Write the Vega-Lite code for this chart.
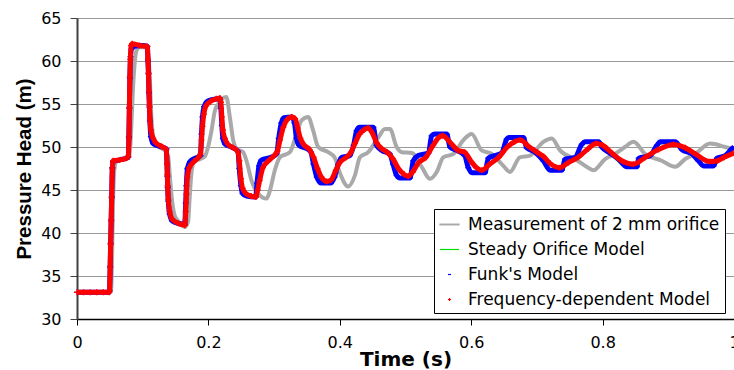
{
  "$schema": "https://vega.github.io/schema/vega-lite/v6.json",
  "width": 657,
  "height": 301,
  "autosize": {"type": "none"},
  "padding": {"left": 77, "top": 18, "right": 0, "bottom": 51},
  "background": "white",
  "config": {
    "font": "DejaVu Sans",
    "view": {"stroke": "#999999", "strokeWidth": 1}
  },
  "datasets": {
    "d": [
      {"s":"M","t":0,"p":33.1},{"s":"M","t":0.05,"p":33.1},{"s":"M","t":0.052,"p":33.4},{"s":"M","t":0.053,"p":36},{"s":"M","t":0.054,"p":40},{"s":"M","t":0.055,"p":44},{"s":"M","t":0.0565,"p":47},{"s":"M","t":0.059,"p":48.2},{"s":"M","t":0.065,"p":48.5},{"s":"M","t":0.079,"p":48.7},{"s":"M","t":0.081,"p":50},{"s":"M","t":0.083,"p":53},{"s":"M","t":0.085,"p":56.5},{"s":"M","t":0.0875,"p":59.5},{"s":"M","t":0.0905,"p":61.2},{"s":"M","t":0.095,"p":61.6},{"s":"M","t":0.106,"p":61.6},{"s":"M","t":0.108,"p":61.0},{"s":"M","t":0.1107,"p":58.3},{"s":"M","t":0.1133,"p":53.3},{"s":"M","t":0.118,"p":50.6},{"s":"M","t":0.125,"p":50.0},{"s":"M","t":0.1336,"p":49.6},{"s":"M","t":0.1386,"p":49.0},{"s":"M","t":0.1412,"p":46.7},{"s":"M","t":0.1438,"p":44.4},{"s":"M","t":0.1488,"p":42.0},{"s":"M","t":0.1539,"p":41.4},{"s":"M","t":0.164,"p":40.7},{"s":"M","t":0.169,"p":41.3},{"s":"M","t":0.1717,"p":44.4},{"s":"M","t":0.1743,"p":47.1},{"s":"M","t":0.179,"p":48.4},{"s":"M","t":0.187,"p":48.6},{"s":"M","t":0.1945,"p":48.9},{"s":"M","t":0.1995,"p":50.0},{"s":"M","t":0.2047,"p":51.9},{"s":"M","t":0.2098,"p":54.2},{"s":"M","t":0.215,"p":55.0},{"s":"M","t":0.2273,"p":55.8},{"s":"M","t":0.2326,"p":53.5},{"s":"M","t":0.2377,"p":50.8},{"s":"M","t":0.2428,"p":49.8},{"s":"M","t":0.2529,"p":49.4},{"s":"M","t":0.258,"p":48.4},{"s":"M","t":0.2656,"p":46.1},{"s":"M","t":0.2757,"p":44.6},{"s":"M","t":0.2885,"p":44.0},{"s":"M","t":0.2935,"p":44.9},{"s":"M","t":0.3011,"p":47.3},{"s":"M","t":0.3088,"p":48.8},{"s":"M","t":0.324,"p":49.4},{"s":"M","t":0.3342,"p":51.5},{"s":"M","t":0.3418,"p":53.1},{"s":"M","t":0.3519,"p":53.5},{"s":"M","t":0.3595,"p":51.9},{"s":"M","t":0.3671,"p":50.0},{"s":"M","t":0.3823,"p":49.4},{"s":"M","t":0.392,"p":48.8},{"s":"M","t":0.4,"p":47.0},{"s":"M","t":0.4128,"p":45.4},{"s":"M","t":0.423,"p":46.7},{"s":"M","t":0.4306,"p":48.8},{"s":"M","t":0.4433,"p":49.4},{"s":"M","t":0.4585,"p":51.1},{"s":"M","t":0.4687,"p":52.1},{"s":"M","t":0.4763,"p":52.1},{"s":"M","t":0.4865,"p":50.0},{"s":"M","t":0.4941,"p":49.4},{"s":"M","t":0.51,"p":49.3},{"s":"M","t":0.5246,"p":47.7},{"s":"M","t":0.5372,"p":46.3},{"s":"M","t":0.5475,"p":47.1},{"s":"M","t":0.5575,"p":48.8},{"s":"M","t":0.573,"p":49.2},{"s":"M","t":0.588,"p":50.8},{"s":"M","t":0.6007,"p":51.5},{"s":"M","t":0.616,"p":49.6},{"s":"M","t":0.6312,"p":49.2},{"s":"M","t":0.649,"p":47.8},{"s":"M","t":0.659,"p":47.1},{"s":"M","t":0.674,"p":48.8},{"s":"M","t":0.6896,"p":49.0},{"s":"M","t":0.7098,"p":50.6},{"s":"M","t":0.7226,"p":51.0},{"s":"M","t":0.7353,"p":49.6},{"s":"M","t":0.758,"p":48.6},{"s":"M","t":0.778,"p":47.6},{"s":"M","t":0.786,"p":47.3},{"s":"M","t":0.8038,"p":48.6},{"s":"M","t":0.819,"p":49.2},{"s":"M","t":0.834,"p":50.0},{"s":"M","t":0.847,"p":50.6},{"s":"M","t":0.8647,"p":49.2},{"s":"M","t":0.89,"p":48.4},{"s":"M","t":0.9104,"p":47.7},{"s":"M","t":0.9257,"p":48.6},{"s":"M","t":0.941,"p":49.2},{"s":"M","t":0.9637,"p":50.4},{"s":"M","t":0.9866,"p":50.0},{"s":"M","t":1.0,"p":49.7},

      {"s":"S","t":0,"p":33.1},{"s":"S","t":0.049,"p":33.1},{"s":"S","t":0.0495,"p":34.5},{"s":"S","t":0.053,"p":46},{"s":"S","t":0.0545,"p":48.3},{"s":"S","t":0.065,"p":48.5},{"s":"S","t":0.0785,"p":48.8},{"s":"S","t":0.0815,"p":60.5},{"s":"S","t":0.084,"p":61.5},{"s":"S","t":0.1,"p":61.8},{"s":"S","t":0.1065,"p":61.7},{"s":"S","t":0.1095,"p":55},{"s":"S","t":0.112,"p":51.2},{"s":"S","t":0.116,"p":50.4},{"s":"S","t":0.136,"p":49.8},{"s":"S","t":0.1385,"p":44},{"s":"S","t":0.142,"p":41.8},{"s":"S","t":0.155,"p":41.1},{"s":"S","t":0.165,"p":41},{"s":"S","t":0.1675,"p":46.5},{"s":"S","t":0.172,"p":48.3},{"s":"S","t":0.188,"p":49},{"s":"S","t":0.192,"p":54},{"s":"S","t":0.198,"p":55.3},{"s":"S","t":0.2175,"p":55.6},{"s":"S","t":0.221,"p":51.5},{"s":"S","t":0.226,"p":50.3},{"s":"S","t":0.245,"p":49.5},{"s":"S","t":0.2495,"p":45.5},{"s":"S","t":0.256,"p":44.3},{"s":"S","t":0.272,"p":44.2},{"s":"S","t":0.277,"p":47.8},{"s":"S","t":0.282,"p":48.5},{"s":"S","t":0.304,"p":49.2},{"s":"S","t":0.311,"p":52.8},{"s":"S","t":0.316,"p":53.4},{"s":"S","t":0.327,"p":53.5},{"s":"S","t":0.334,"p":51},{"s":"S","t":0.34,"p":50.1},{"s":"S","t":0.356,"p":49.4},{"s":"S","t":0.365,"p":46.5},{"s":"S","t":0.372,"p":45.8},{"s":"S","t":0.386,"p":45.8},{"s":"S","t":0.397,"p":48},{"s":"S","t":0.403,"p":48.8},{"s":"S","t":0.415,"p":49},{"s":"S","t":0.425,"p":51.9},{"s":"S","t":0.43,"p":52.3},{"s":"S","t":0.45,"p":52.3},{"s":"S","t":0.456,"p":50.2},{"s":"S","t":0.476,"p":49.2},{"s":"S","t":0.486,"p":46.7},{"s":"S","t":0.491,"p":46.4},{"s":"S","t":0.506,"p":46.4},{"s":"S","t":0.511,"p":48.4},{"s":"S","t":0.519,"p":49.0},{"s":"S","t":0.535,"p":49.3},{"s":"S","t":0.539,"p":51.3},{"s":"S","t":0.545,"p":51.5},{"s":"S","t":0.562,"p":51.5},{"s":"S","t":0.567,"p":50.0},{"s":"S","t":0.59,"p":49.0},{"s":"S","t":0.5955,"p":47.6},{"s":"S","t":0.601,"p":47.0},{"s":"S","t":0.62,"p":47.0},{"s":"S","t":0.626,"p":48.7},{"s":"S","t":0.646,"p":49.3},{"s":"S","t":0.654,"p":50.9},{"s":"S","t":0.679,"p":51.1},{"s":"S","t":0.684,"p":49.9},{"s":"S","t":0.697,"p":49.4},{"s":"S","t":0.72,"p":47.3},{"s":"S","t":0.737,"p":47.3},{"s":"S","t":0.743,"p":48.6},{"s":"S","t":0.758,"p":48.8},{"s":"S","t":0.768,"p":50.3},{"s":"S","t":0.794,"p":50.6},{"s":"S","t":0.809,"p":49.4},{"s":"S","t":0.837,"p":47.7},{"s":"S","t":0.852,"p":47.7},{"s":"S","t":0.855,"p":48.7},{"s":"S","t":0.872,"p":49.0},{"s":"S","t":0.8826,"p":50.2},{"s":"S","t":0.91,"p":50.6},{"s":"S","t":0.9358,"p":49.2},{"s":"S","t":0.9536,"p":47.8},{"s":"S","t":0.9688,"p":47.8},{"s":"S","t":0.974,"p":48.7},{"s":"S","t":0.9866,"p":49.0},{"s":"S","t":1.0,"p":50.0},

      {"s":"K","t":0,"p":33.1},{"s":"K","t":0.02,"p":33.1},{"s":"K","t":0.049,"p":33.1},{"s":"K","t":0.0495,"p":33.3},{"s":"K","t":0.0505,"p":36.1},{"s":"K","t":0.0512,"p":38.8},{"s":"K","t":0.052,"p":41.5},{"s":"K","t":0.0528,"p":44.2},{"s":"K","t":0.0538,"p":47.6},{"s":"K","t":0.055,"p":48.3},{"s":"K","t":0.065,"p":48.5},{"s":"K","t":0.078,"p":48.8},{"s":"K","t":0.079,"p":51.2},{"s":"K","t":0.0797,"p":54.5},{"s":"K","t":0.0805,"p":58.0},{"s":"K","t":0.0815,"p":60.5},{"s":"K","t":0.083,"p":61.4},{"s":"K","t":0.087,"p":61.7},{"s":"K","t":0.1,"p":61.8},{"s":"K","t":0.107,"p":61.7},{"s":"K","t":0.108,"p":60.0},{"s":"K","t":0.1088,"p":58.5},{"s":"K","t":0.1095,"p":56.3},{"s":"K","t":0.1103,"p":54.6},{"s":"K","t":0.111,"p":53.0},{"s":"K","t":0.1125,"p":51.2},{"s":"K","t":0.116,"p":50.4},{"s":"K","t":0.125,"p":50.1},{"s":"K","t":0.136,"p":49.8},{"s":"K","t":0.137,"p":48.0},{"s":"K","t":0.1375,"p":46.6},{"s":"K","t":0.138,"p":45.3},{"s":"K","t":0.139,"p":43.7},{"s":"K","t":0.141,"p":42.2},{"s":"K","t":0.145,"p":41.4},{"s":"K","t":0.155,"p":41.1},{"s":"K","t":0.164,"p":41.0},{"s":"K","t":0.1655,"p":43.5},{"s":"K","t":0.1665,"p":45.5},{"s":"K","t":0.168,"p":47.5},{"s":"K","t":0.172,"p":48.3},{"s":"K","t":0.18,"p":48.7},{"s":"K","t":0.188,"p":49.0},{"s":"K","t":0.1895,"p":51.5},{"s":"K","t":0.191,"p":53.5},{"s":"K","t":0.1935,"p":54.7},{"s":"K","t":0.198,"p":55.3},{"s":"K","t":0.205,"p":55.5},{"s":"K","t":0.2175,"p":55.6},{"s":"K","t":0.219,"p":54.5},{"s":"K","t":0.2205,"p":52.5},{"s":"K","t":0.222,"p":51.0},{"s":"K","t":0.226,"p":50.3},{"s":"K","t":0.235,"p":50.0},{"s":"K","t":0.245,"p":49.5},{"s":"K","t":0.247,"p":47.5},{"s":"K","t":0.2495,"p":45.5},{"s":"K","t":0.252,"p":44.6},{"s":"K","t":0.258,"p":44.3},{"s":"K","t":0.272,"p":44.2},{"s":"K","t":0.274,"p":45.8},{"s":"K","t":0.277,"p":47.8},{"s":"K","t":0.281,"p":48.5},{"s":"K","t":0.295,"p":48.8},{"s":"K","t":0.304,"p":49.2},{"s":"K","t":0.307,"p":51.0},{"s":"K","t":0.311,"p":52.8},{"s":"K","t":0.315,"p":53.4},{"s":"K","t":0.327,"p":53.5},{"s":"K","t":0.331,"p":52.8},{"s":"K","t":0.334,"p":51.0},{"s":"K","t":0.338,"p":50.2},{"s":"K","t":0.35,"p":49.8},{"s":"K","t":0.356,"p":49.4},{"s":"K","t":0.36,"p":48.0},{"s":"K","t":0.365,"p":46.5},{"s":"K","t":0.372,"p":45.8},{"s":"K","t":0.386,"p":45.8},{"s":"K","t":0.392,"p":46.5},{"s":"K","t":0.3976,"p":48.0},{"s":"K","t":0.403,"p":48.8},{"s":"K","t":0.415,"p":49.0},{"s":"K","t":0.421,"p":50.2},{"s":"K","t":0.4256,"p":51.9},{"s":"K","t":0.43,"p":52.3},{"s":"K","t":0.451,"p":52.3},{"s":"K","t":0.456,"p":50.2},{"s":"K","t":0.464,"p":49.6},{"s":"K","t":0.476,"p":49.2},{"s":"K","t":0.481,"p":48.0},{"s":"K","t":0.4865,"p":46.7},{"s":"K","t":0.4915,"p":46.4},{"s":"K","t":0.5068,"p":46.4},{"s":"K","t":0.5118,"p":48.4},{"s":"K","t":0.5194,"p":49.0},{"s":"K","t":0.535,"p":49.3},{"s":"K","t":0.5398,"p":51.3},{"s":"K","t":0.545,"p":51.5},{"s":"K","t":0.5627,"p":51.5},{"s":"K","t":0.5677,"p":50.0},{"s":"K","t":0.578,"p":49.6},{"s":"K","t":0.59,"p":49.0},{"s":"K","t":0.5956,"p":47.6},{"s":"K","t":0.601,"p":47.0},{"s":"K","t":0.621,"p":47.0},{"s":"K","t":0.626,"p":48.7},{"s":"K","t":0.636,"p":49.0},{"s":"K","t":0.6464,"p":49.3},{"s":"K","t":0.654,"p":50.9},{"s":"K","t":0.657,"p":51.1},{"s":"K","t":0.6794,"p":51.1},{"s":"K","t":0.6845,"p":49.9},{"s":"K","t":0.6972,"p":49.4},{"s":"K","t":0.7098,"p":48.4},{"s":"K","t":0.72,"p":47.3},{"s":"K","t":0.7378,"p":47.3},{"s":"K","t":0.7429,"p":48.6},{"s":"K","t":0.758,"p":48.8},{"s":"K","t":0.7683,"p":50.3},{"s":"K","t":0.7733,"p":50.6},{"s":"K","t":0.794,"p":50.6},{"s":"K","t":0.7988,"p":50.0},{"s":"K","t":0.809,"p":49.4},{"s":"K","t":0.824,"p":48.6},{"s":"K","t":0.8369,"p":47.7},{"s":"K","t":0.852,"p":47.7},{"s":"K","t":0.855,"p":48.7},{"s":"K","t":0.8724,"p":49.0},{"s":"K","t":0.8826,"p":50.2},{"s":"K","t":0.8877,"p":50.6},{"s":"K","t":0.9104,"p":50.6},{"s":"K","t":0.9206,"p":49.7},{"s":"K","t":0.9358,"p":49.2},{"s":"K","t":0.9459,"p":48.4},{"s":"K","t":0.9536,"p":47.8},{"s":"K","t":0.9688,"p":47.8},{"s":"K","t":0.974,"p":48.7},{"s":"K","t":0.9866,"p":49.0},{"s":"K","t":0.9968,"p":49.8},{"s":"K","t":1.0,"p":50.0},

      {"s":"F","t":0,"p":33.1},{"s":"F","t":0.01,"p":33.1},{"s":"F","t":0.02,"p":33.1},{"s":"F","t":0.03,"p":33.1},{"s":"F","t":0.04,"p":33.1},{"s":"F","t":0.049,"p":33.1},{"s":"F","t":0.0495,"p":33.3},{"s":"F","t":0.0505,"p":36.0},{"s":"F","t":0.0512,"p":38.7},{"s":"F","t":0.052,"p":41.4},{"s":"F","t":0.0528,"p":44.1},{"s":"F","t":0.0538,"p":47.5},{"s":"F","t":0.055,"p":48.4},{"s":"F","t":0.065,"p":48.5},{"s":"F","t":0.075,"p":48.7},{"s":"F","t":0.078,"p":48.9},{"s":"F","t":0.079,"p":51.0},{"s":"F","t":0.0797,"p":54.6},{"s":"F","t":0.0805,"p":58.2},{"s":"F","t":0.0812,"p":60.2},{"s":"F","t":0.0825,"p":61.8},{"s":"F","t":0.084,"p":62.0},{"s":"F","t":0.095,"p":61.8},{"s":"F","t":0.107,"p":61.7},{"s":"F","t":0.108,"p":60.2},{"s":"F","t":0.1088,"p":58.6},{"s":"F","t":0.1095,"p":56.5},{"s":"F","t":0.1103,"p":54.8},{"s":"F","t":0.111,"p":53.3},{"s":"F","t":0.1125,"p":52.0},{"s":"F","t":0.116,"p":51.0},{"s":"F","t":0.12,"p":50.5},{"s":"F","t":0.128,"p":50.1},{"s":"F","t":0.136,"p":49.7},{"s":"F","t":0.137,"p":48.0},{"s":"F","t":0.1375,"p":46.8},{"s":"F","t":0.138,"p":45.5},{"s":"F","t":0.139,"p":43.9},{"s":"F","t":0.141,"p":42.5},{"s":"F","t":0.145,"p":41.6},{"s":"F","t":0.155,"p":41.1},{"s":"F","t":0.164,"p":40.9},{"s":"F","t":0.1655,"p":42.5},{"s":"F","t":0.1665,"p":44.5},{"s":"F","t":0.168,"p":46.5},{"s":"F","t":0.171,"p":47.6},{"s":"F","t":0.178,"p":48.3},{"s":"F","t":0.186,"p":48.9},{"s":"F","t":0.188,"p":49.2},{"s":"F","t":0.1895,"p":50.8},{"s":"F","t":0.191,"p":52.4},{"s":"F","t":0.193,"p":53.8},{"s":"F","t":0.1965,"p":54.8},{"s":"F","t":0.203,"p":55.3},{"s":"F","t":0.212,"p":55.6},{"s":"F","t":0.2175,"p":55.7},{"s":"F","t":0.219,"p":55.2},{"s":"F","t":0.2205,"p":53.5},{"s":"F","t":0.222,"p":52.0},{"s":"F","t":0.225,"p":51.0},{"s":"F","t":0.23,"p":50.3},{"s":"F","t":0.238,"p":49.9},{"s":"F","t":0.245,"p":49.4},{"s":"F","t":0.247,"p":48.4},{"s":"F","t":0.2495,"p":46.3},{"s":"F","t":0.252,"p":45.2},{"s":"F","t":0.257,"p":44.6},{"s":"F","t":0.265,"p":44.3},{"s":"F","t":0.2725,"p":44.2},{"s":"F","t":0.275,"p":45.0},{"s":"F","t":0.278,"p":46.1},{"s":"F","t":0.283,"p":47.6},{"s":"F","t":0.29,"p":48.3},{"s":"F","t":0.3,"p":49.0},{"s":"F","t":0.305,"p":49.5},{"s":"F","t":0.309,"p":50.8},{"s":"F","t":0.314,"p":52.3},{"s":"F","t":0.32,"p":53.2},{"s":"F","t":0.327,"p":53.5},{"s":"F","t":0.332,"p":53.3},{"s":"F","t":0.336,"p":52.2},{"s":"F","t":0.34,"p":51.0},{"s":"F","t":0.346,"p":50.2},{"s":"F","t":0.354,"p":49.7},{"s":"F","t":0.36,"p":48.8},{"s":"F","t":0.366,"p":47.5},{"s":"F","t":0.372,"p":46.5},{"s":"F","t":0.38,"p":46.0},{"s":"F","t":0.387,"p":46.2},{"s":"F","t":0.394,"p":47.3},{"s":"F","t":0.4,"p":48.2},{"s":"F","t":0.41,"p":48.8},{"s":"F","t":0.417,"p":49.4},{"s":"F","t":0.423,"p":50.4},{"s":"F","t":0.43,"p":51.5},{"s":"F","t":0.437,"p":52.0},{"s":"F","t":0.443,"p":52.2},{"s":"F","t":0.449,"p":51.7},{"s":"F","t":0.456,"p":50.5},{"s":"F","t":0.464,"p":49.8},{"s":"F","t":0.472,"p":49.4},{"s":"F","t":0.481,"p":48.6},{"s":"F","t":0.49,"p":47.4},{"s":"F","t":0.498,"p":46.8},{"s":"F","t":0.504,"p":46.6},{"s":"F","t":0.511,"p":47.1},{"s":"F","t":0.52,"p":48.2},{"s":"F","t":0.531,"p":48.8},{"s":"F","t":0.542,"p":50.2},{"s":"F","t":0.552,"p":51.2},{"s":"F","t":0.557,"p":51.3},{"s":"F","t":0.566,"p":50.7},{"s":"F","t":0.58,"p":49.6},{"s":"F","t":0.59,"p":49.4},{"s":"F","t":0.6,"p":48.3},{"s":"F","t":0.608,"p":47.6},{"s":"F","t":0.616,"p":47.3},{"s":"F","t":0.628,"p":48.0},{"s":"F","t":0.642,"p":48.8},{"s":"F","t":0.655,"p":50.0},{"s":"F","t":0.666,"p":50.6},{"s":"F","t":0.675,"p":50.8},{"s":"F","t":0.687,"p":50.1},{"s":"F","t":0.7,"p":49.4},{"s":"F","t":0.71,"p":48.9},{"s":"F","t":0.72,"p":48.1},{"s":"F","t":0.735,"p":47.6},{"s":"F","t":0.748,"p":48.2},{"s":"F","t":0.763,"p":48.8},{"s":"F","t":0.778,"p":49.8},{"s":"F","t":0.79,"p":50.4},{"s":"F","t":0.8,"p":50.2},{"s":"F","t":0.814,"p":49.3},{"s":"F","t":0.829,"p":48.4},{"s":"F","t":0.847,"p":48.0},{"s":"F","t":0.865,"p":48.8},{"s":"F","t":0.885,"p":49.7},{"s":"F","t":0.908,"p":50.3},{"s":"F","t":0.926,"p":49.9},{"s":"F","t":0.941,"p":49.2},{"s":"F","t":0.963,"p":48.3},{"s":"F","t":0.975,"p":48.4},{"s":"F","t":0.985,"p":48.8},{"s":"F","t":1.0,"p":49.3}
    ]
  },
  "data": {"name": "d"},
  "encoding": {
    "x": {
      "field": "t", "type": "quantitative",
      "scale": {"domain": [0, 1], "nice": false},
      "axis": {
        "title": "Time (s)", "values": [0, 0.2, 0.4, 0.6, 0.8, 1], "format": "~g",
        "grid": false, "domainColor": "#000000", "domainWidth": 1.5,
        "tickColor": "#000000", "tickSize": 6, "tickWidth": 1,
        "labelFont": "DejaVu Sans", "labelFontSize": 16, "labelColor": "#000000",
        "labelPadding": 9, "labelFlush": false,
        "titleFont": "DejaVu Sans", "titleFontSize": 20, "titleFontWeight": "bold",
        "titleColor": "#000000", "titlePadding": -1
      }
    },
    "y": {
      "field": "p", "type": "quantitative",
      "scale": {"domain": [30, 65], "nice": false, "zero": false},
      "axis": {
        "title": "Pressure Head (m)", "values": [30, 35, 40, 45, 50, 55, 60, 65],
        "grid": true, "gridColor": "#999999", "gridWidth": 1,
        "domainColor": "#404040", "domainWidth": 2,
        "tickColor": "#404040", "tickSize": 7, "tickWidth": 1,
        "labelFont": "DejaVu Sans", "labelFontSize": 16, "labelColor": "#000000",
        "labelPadding": 9,
        "titleFont": "Liberation Sans", "titleFontSize": 20.5, "titleFontWeight": "bold",
        "titleColor": "#000000", "titlePadding": 6
      }
    }
  },
  "layer": [
    {
      "transform": [{"filter": "datum.s === 'M'"}],
      "mark": {"type": "line", "color": "#a9a9a9", "strokeWidth": 4, "interpolate": "monotone"}
    },
    {
      "transform": [{"filter": "datum.s === 'S'"}],
      "mark": {"type": "line", "color": "#00e000", "strokeWidth": 1.2, "interpolate": "monotone"}
    },
    {
      "transform": [{"filter": "datum.s === 'K'"}],
      "mark": {"type": "line", "color": "#0000ff", "strokeWidth": 5, "interpolate": "monotone"}
    },
    {
      "transform": [{"filter": "datum.s === 'K'"}],
      "mark": {"type": "point", "filled": false, "opacity": 1, "size": 1400, "strokeWidth": 1.4},
      "encoding": {
        "color": {
          "field": "s", "type": "nominal",
          "scale": {"domain": ["M", "S", "K", "F"], "range": ["#a9a9a9", "#00e000", "#0000ff", "#ff0000"]},
          "legend": {
            "title": null, "orient": "none", "legendX": 357, "legendY": 191,
            "labelExpr": "datum.label === 'M' ? 'Measurement of 2 mm orifice' : datum.label === 'S' ? 'Steady Orifice Model' : datum.label === 'K' ? \"Funk's Model\" : 'Frequency-dependent Model'",
            "labelFont": "DejaVu Sans", "labelFontSize": 17, "labelColor": "#000000", "labelLimit": 400,
            "symbolSize": 361, "symbolStrokeWidth": 1.2, "padding": 5, "rowPadding": 6, "labelOffset": 8,
            "strokeColor": "#000000", "fillColor": "#ffffff"
          }
        },
        "shape": {
          "field": "s", "type": "nominal",
          "scale": {"domain": ["M", "S", "K", "F"], "range": ["M-1,-0.04H1V0.04H-1Z", "M-1,0H1", "M-0.16,0H0.16", "M-0.16,0H0.16M0,-0.16V0.16"]},
          "legend": {
            "title": null, "orient": "none", "legendX": 357, "legendY": 191,
            "labelExpr": "datum.label === 'M' ? 'Measurement of 2 mm orifice' : datum.label === 'S' ? 'Steady Orifice Model' : datum.label === 'K' ? \"Funk's Model\" : 'Frequency-dependent Model'",
            "labelFont": "DejaVu Sans", "labelFontSize": 17, "labelColor": "#000000", "labelLimit": 400,
            "symbolSize": 361, "symbolStrokeWidth": 1.2, "padding": 5, "rowPadding": 6, "labelOffset": 8,
            "strokeColor": "#000000", "fillColor": "#ffffff"
          }
        }
      }
    },
    {
      "transform": [{"filter": "datum.s === 'F'"}],
      "mark": {"type": "line", "color": "#ff0000", "strokeWidth": 5, "interpolate": "monotone"}
    },
    {
      "transform": [{"filter": "datum.s === 'F'"}],
      "mark": {"type": "point", "filled": false, "opacity": 1, "size": 1400, "strokeWidth": 1.4},
      "encoding": {
        "color": {"field": "s", "type": "nominal"},
        "shape": {"field": "s", "type": "nominal"}
      }
    }
  ]
}
